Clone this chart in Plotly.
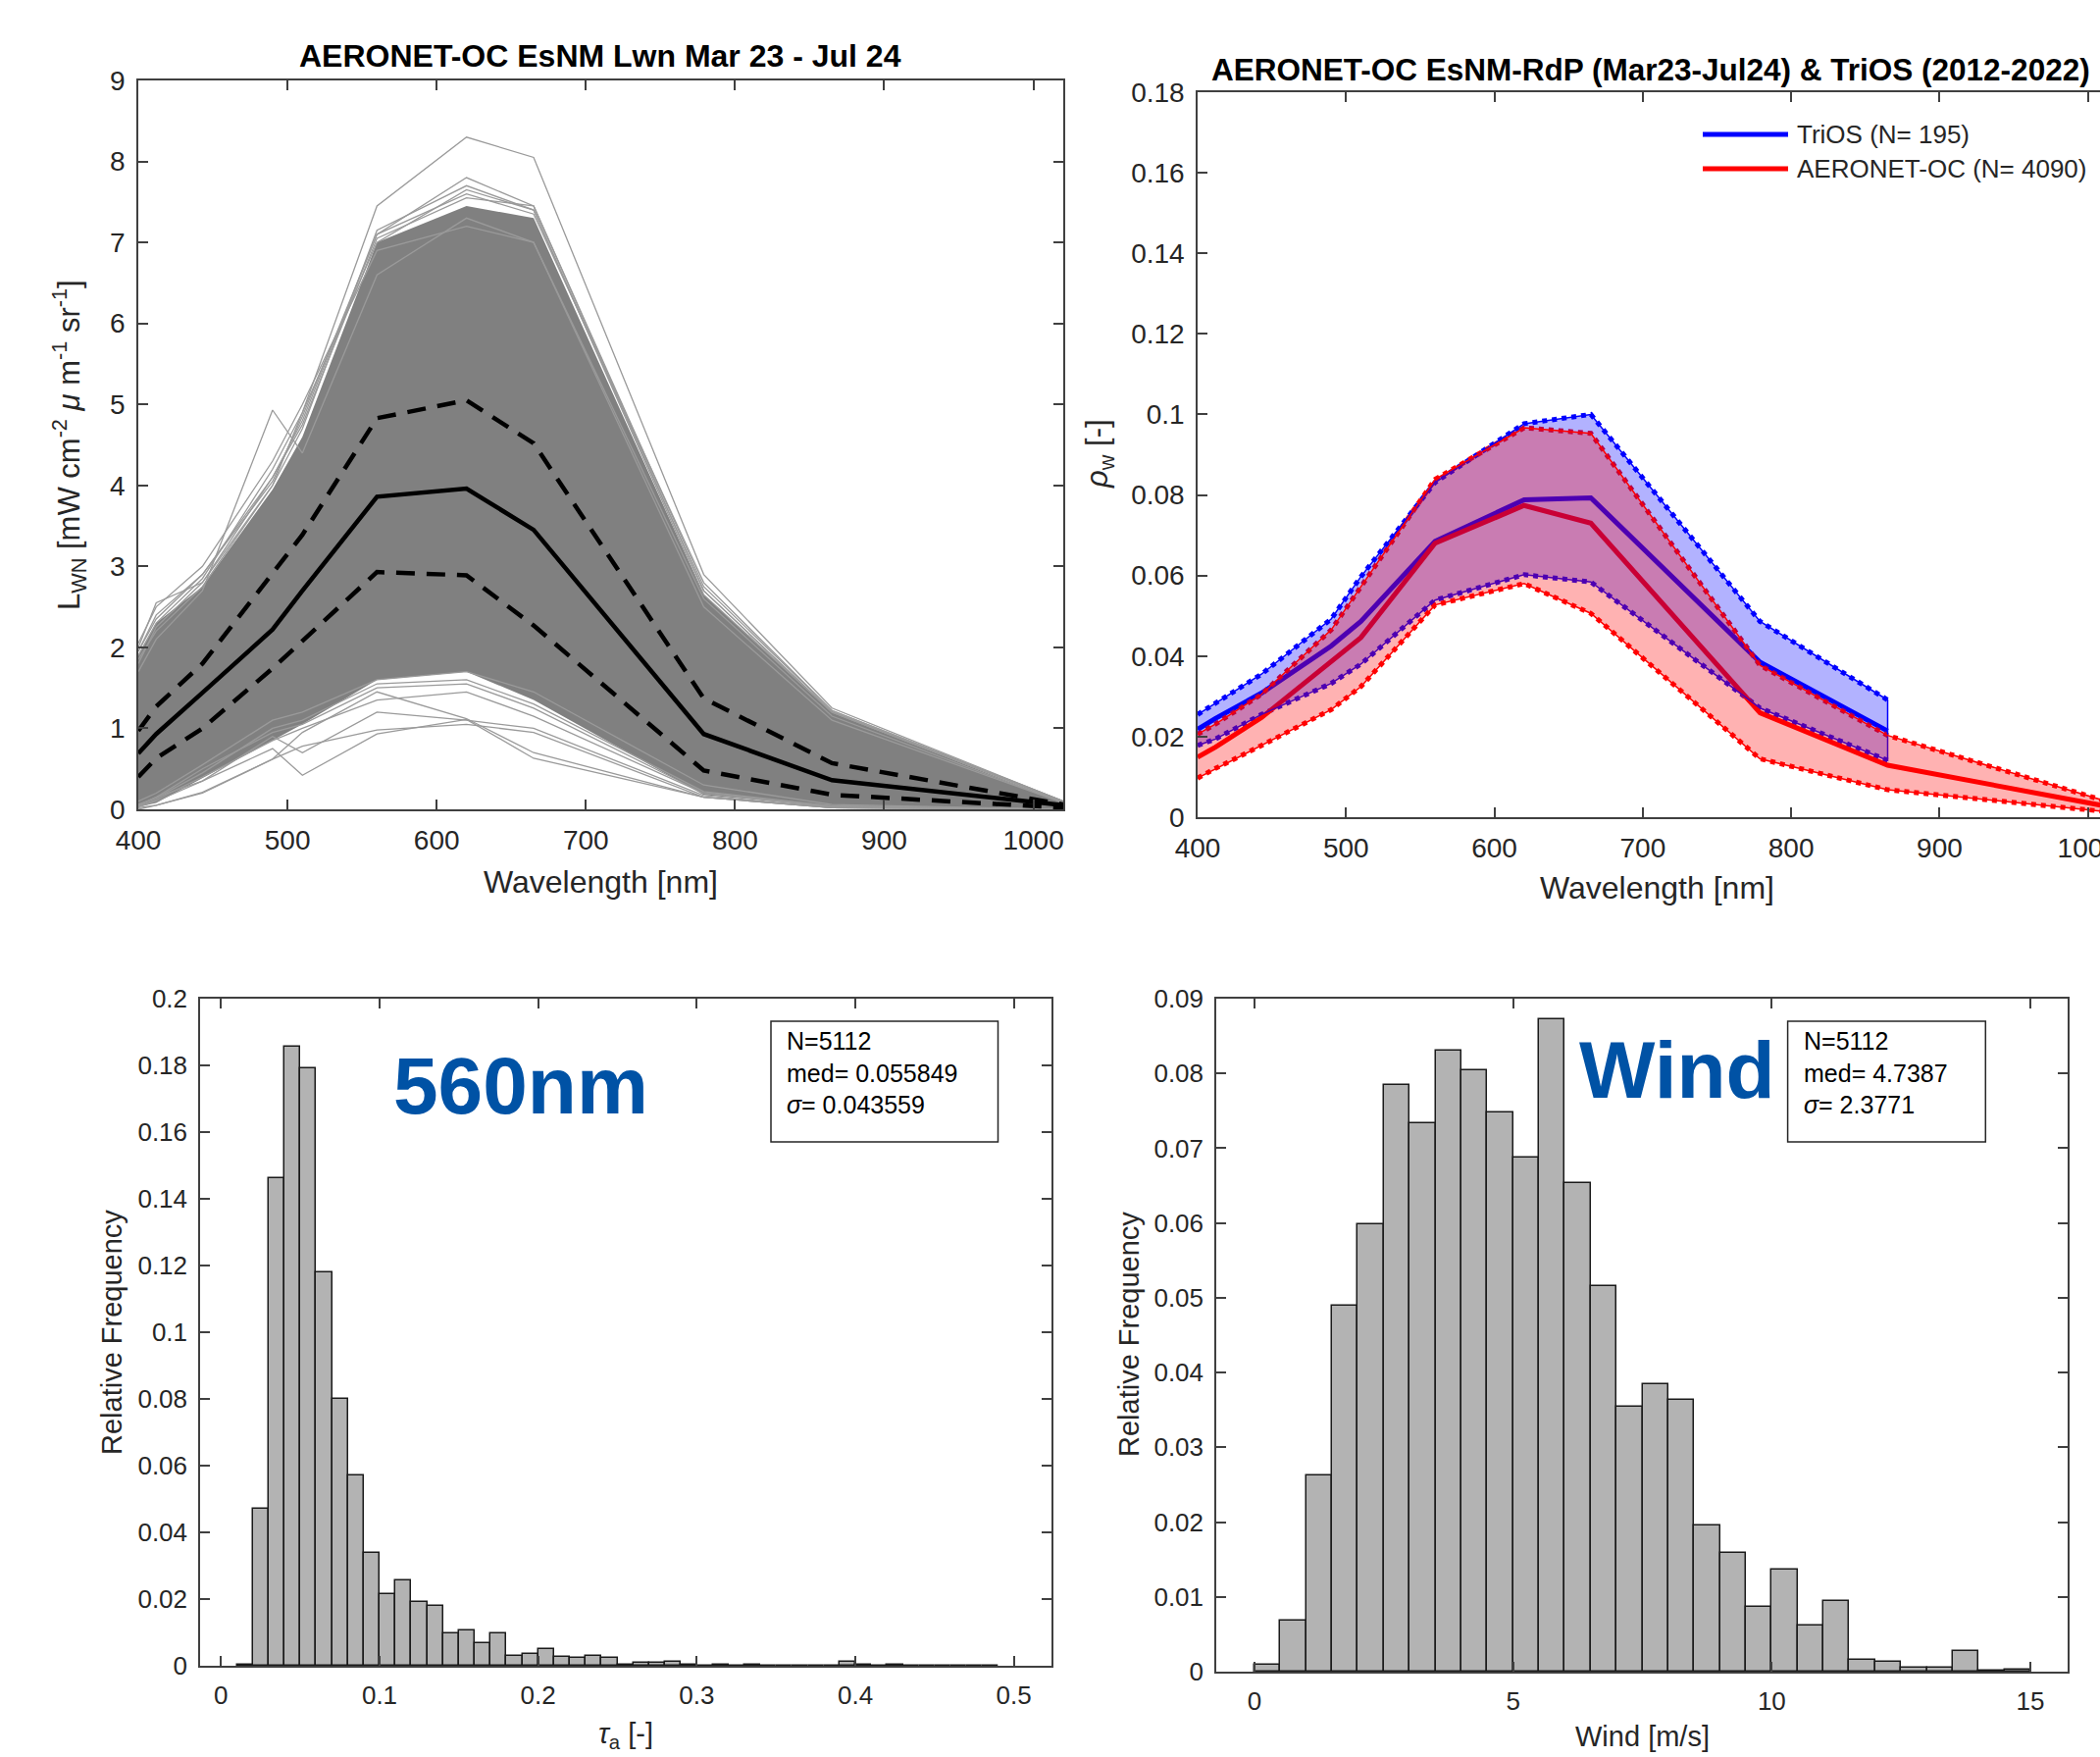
import plotly.graph_objects as go

W, H = 2141, 1791

# ---------------- data ----------------
wl = [400, 412, 443, 490, 510, 560, 620, 665, 779, 865, 1020]
# top-left: Lwn spectra summary
lwn_med = [0.69, 0.93, 1.44, 2.22, 2.70, 3.86, 3.96, 3.45, 0.93, 0.36, 0.05]
lwn_q75 = [0.97, 1.27, 1.80, 2.93, 3.39, 4.83, 5.05, 4.52, 1.37, 0.57, 0.06]
lwn_q25 = [0.40, 0.63, 1.00, 1.74, 2.08, 2.93, 2.89, 2.27, 0.48, 0.18, 0.02]
# dense core of individual spectra (upper / lower envelope of the grey mass)
lwn_core_hi = [1.90, 2.30, 2.75, 3.95, 4.60, 7.00, 7.45, 7.30, 2.65, 1.20, 0.08]
lwn_core_lo = [0.03, 0.08, 0.38, 0.85, 1.05, 1.60, 1.70, 1.35, 0.18, 0.03, 0.00]
# individual spectra visible at the edges of the grey mass
lwn_edge = [
    [2.00, 2.55, 2.80, 4.00, 4.90, 7.45, 8.30, 8.05, 2.90, 1.25, 0.10],
    [1.95, 2.40, 2.90, 4.10, 4.80, 7.10, 7.80, 7.45, 2.75, 1.22, 0.10],
    [1.70, 2.10, 2.70, 4.93, 4.40, 6.60, 7.30, 7.00, 2.50, 1.10, 0.08],
    [1.90, 2.30, 2.85, 4.20, 4.90, 7.00, 7.65, 7.40, 2.65, 1.20, 0.09],
    [1.85, 2.20, 2.75, 4.00, 4.70, 7.15, 7.70, 7.40, 2.70, 1.20, 0.10],
    [2.05, 2.50, 3.00, 4.30, 5.00, 6.90, 7.20, 7.00, 2.60, 1.15, 0.08],
    [1.80, 2.25, 2.80, 4.10, 4.75, 7.05, 7.55, 7.45, 2.70, 1.20, 0.09],
    [1.95, 2.35, 2.90, 4.05, 4.85, 7.10, 7.60, 7.35, 2.80, 1.22, 0.10],
    [0.00, 0.05, 0.20, 0.62, 0.78, 0.98, 1.05, 0.95, 0.15, 0.02, 0.00],
    [0.05, 0.15, 0.35, 0.75, 0.42, 0.93, 1.11, 0.63, 0.15, 0.02, 0.00],
    [0.02, 0.05, 0.21, 0.62, 0.95, 1.45, 1.12, 0.70, 0.15, 0.02, 0.00],
    [0.05, 0.15, 0.50, 0.95, 1.05, 1.50, 1.55, 1.25, 0.20, 0.04, 0.00],
    [0.03, 0.10, 0.35, 0.90, 0.70, 1.20, 1.10, 1.00, 0.17, 0.02, 0.00],
    [0.10, 0.20, 0.55, 1.10, 1.20, 1.60, 1.70, 1.45, 0.30, 0.06, 0.00],
    [0.04, 0.12, 0.40, 0.85, 1.00, 1.35, 1.45, 1.15, 0.20, 0.03, 0.00],
    [0.06, 0.14, 0.45, 1.00, 1.10, 1.55, 1.60, 1.30, 0.22, 0.04, 0.00],
]

# top-right: rho_w
trios_wl = [400, 412, 443, 490, 510, 560, 620, 665, 779, 865]
trios_hi = [0.0255, 0.0283, 0.0355, 0.0492, 0.0597, 0.0831, 0.0977, 0.1000, 0.0486, 0.0291]
trios_med = [0.0218, 0.0245, 0.0308, 0.0425, 0.0486, 0.0685, 0.0788, 0.0793, 0.0385, 0.0214]
trios_lo = [0.0178, 0.0194, 0.0255, 0.0332, 0.0380, 0.0539, 0.0602, 0.0584, 0.0271, 0.0141]
aer_hi = [0.0206, 0.0231, 0.0305, 0.0465, 0.0572, 0.0839, 0.0967, 0.0953, 0.0377, 0.0203, 0.0031]
aer_med = [0.0149, 0.0174, 0.0247, 0.0385, 0.0446, 0.0680, 0.0774, 0.0730, 0.0259, 0.0129, 0.0022]
aer_lo = [0.0097, 0.0121, 0.0178, 0.0267, 0.0324, 0.0527, 0.0580, 0.0506, 0.0145, 0.0068, 0.0011]

# bottom-left: tau_a(560) histogram (bin width 0.01)
tau_bin_left = [0.01, 0.02, 0.03, 0.04, 0.05, 0.06, 0.07, 0.08, 0.09, 0.10,
                0.11, 0.12, 0.13, 0.14, 0.15, 0.16, 0.17, 0.18, 0.19, 0.20,
                0.21, 0.22, 0.23, 0.24, 0.25, 0.26, 0.27, 0.28, 0.29, 0.30,
                0.31, 0.32, 0.33, 0.34, 0.35, 0.36, 0.37, 0.38, 0.39, 0.40,
                0.41, 0.42, 0.43, 0.44, 0.45, 0.46, 0.47, 0.48]
tau_freq = [0.0003, 0.0471, 0.1462, 0.1856, 0.1792, 0.1180, 0.0800, 0.0572, 0.0339, 0.0216,
            0.0256, 0.0192, 0.0179, 0.0097, 0.0106, 0.0069, 0.0096, 0.0030, 0.0034, 0.0050,
            0.0026, 0.0024, 0.0028, 0.0025, 0.0004, 0.0008, 0.0009, 0.0013, 0.0004, 0.0000,
            0.0002, 0.0000, 0.0002, 0.0001, 0.0001, 0.0001, 0.0001, 0.0001, 0.0011, 0.0004,
            0.0001, 0.0004, 0.0001, 0.0001, 0.0001, 0.0001, 0.0001, 0.0001]
tau_bw = 0.01

# bottom-right: wind histogram (bin width 0.5)
wind_bin_left = [0.0, 0.5, 1.0, 1.5, 2.0, 2.5, 3.0, 3.5, 4.0, 4.5,
                 5.0, 5.5, 6.0, 6.5, 7.0, 7.5, 8.0, 8.5, 9.0, 9.5,
                 10.0, 10.5, 11.0, 11.5, 12.0, 12.5, 13.0, 13.5, 14.0, 14.5]
wind_freq = [0.00095, 0.0068, 0.0262, 0.0490, 0.0598, 0.0784, 0.0733, 0.0830, 0.0804, 0.0748,
             0.0688, 0.0872, 0.0654, 0.0515, 0.0354, 0.0385, 0.0363, 0.0195, 0.0159, 0.0087,
             0.0136, 0.0062, 0.0095, 0.0016, 0.0013, 0.0005, 0.0005, 0.0027, 0.0001, 0.0003]
wind_bw = 0.5

lwn_ticks = [0, 1, 2, 3, 4, 5, 6, 7, 8, 9]
wl_ticks = [400, 500, 600, 700, 800, 900, 1000]
rho_ticks = [0, 0.02, 0.04, 0.06, 0.08, 0.1, 0.12, 0.14, 0.16, 0.18]
rho_ticktext = ["0", "0.02", "0.04", "0.06", "0.08", "0.1", "0.12", "0.14", "0.16", "0.18"]
tau_xticks = [0, 0.1, 0.2, 0.3, 0.4, 0.5]
tau_xticktext = ["0", "0.1", "0.2", "0.3", "0.4", "0.5"]
tau_yticks = [0, 0.02, 0.04, 0.06, 0.08, 0.1, 0.12, 0.14, 0.16, 0.18, 0.2]
tau_yticktext = ["0", "0.02", "0.04", "0.06", "0.08", "0.1", "0.12", "0.14", "0.16", "0.18", "0.2"]
wind_xticks = [0, 5, 10, 15]
wind_yticks = [0, 0.01, 0.02, 0.03, 0.04, 0.05, 0.06, 0.07, 0.08, 0.09]
wind_yticktext = ["0", "0.01", "0.02", "0.03", "0.04", "0.05", "0.06", "0.07", "0.08", "0.09"]

# ---------------- helpers ----------------
def px(x):
    return x / W


def py(y):
    return 1 - y / H


FONT = "Liberation Sans, Arial, Helvetica, sans-serif"
AXC = "#404040"
TXC = "#262626"

fig = go.Figure()

# ---- top-left ----
fig.add_trace(go.Scatter(x=wl + wl[::-1], y=lwn_core_hi + lwn_core_lo[::-1], fill="toself",
                         fillcolor="#808080", line=dict(width=0), mode="lines",
                         xaxis="x", yaxis="y", showlegend=False, hoverinfo="skip"))
for spec in lwn_edge:
    fig.add_trace(go.Scatter(x=wl, y=spec, mode="lines", line=dict(color="#9a9a9a", width=1.3),
                             xaxis="x", yaxis="y", showlegend=False))
for q in (lwn_q75, lwn_q25):
    fig.add_trace(go.Scatter(x=wl, y=q, mode="lines", line=dict(color="black", width=4.5, dash="19px,12px"),
                             xaxis="x", yaxis="y", showlegend=False))
fig.add_trace(go.Scatter(x=wl, y=lwn_med, mode="lines", line=dict(color="black", width=4.5),
                         xaxis="x", yaxis="y", showlegend=False))

# ---- top-right ----
DOT = "5px,5px"
for yv, w, d in ((trios_hi, 5, DOT), (trios_lo, 5, DOT), (trios_med, 5, "solid")):
    fig.add_trace(go.Scatter(x=trios_wl, y=yv, mode="lines", line=dict(color="#0000ff", width=w, dash=d),
                             xaxis="x2", yaxis="y2", showlegend=False))
for yv, w, d in ((aer_hi, 5, DOT), (aer_lo, 5, DOT), (aer_med, 5, "solid")):
    fig.add_trace(go.Scatter(x=wl, y=yv, mode="lines", line=dict(color="#ff0000", width=w, dash=d),
                             xaxis="x2", yaxis="y2", showlegend=False))
fig.add_trace(go.Scatter(x=trios_wl + trios_wl[::-1], y=trios_hi + trios_lo[::-1], fill="toself",
                         fillcolor="rgba(0,0,255,0.3)", line=dict(color="#0000ff", width=1.5), mode="lines",
                         xaxis="x2", yaxis="y2", showlegend=False, hoverinfo="skip"))
fig.add_trace(go.Scatter(x=wl + wl[::-1], y=aer_hi + aer_lo[::-1], fill="toself",
                         fillcolor="rgba(255,0,0,0.3)", line=dict(color="#ff0000", width=1.5), mode="lines",
                         xaxis="x2", yaxis="y2", showlegend=False, hoverinfo="skip"))

# ---- bottom-left ----
fig.add_trace(go.Bar(x=[b + tau_bw / 2 for b in tau_bin_left], y=tau_freq, width=tau_bw,
                     marker=dict(color="#b3b3b3", line=dict(color="#1a1a1a", width=1.5)),
                     xaxis="x3", yaxis="y3", showlegend=False))
# ---- bottom-right ----
fig.add_trace(go.Bar(x=[b + wind_bw / 2 for b in wind_bin_left], y=wind_freq, width=wind_bw,
                     marker=dict(color="#b3b3b3", line=dict(color="#1a1a1a", width=1.5)),
                     xaxis="x4", yaxis="y4", showlegend=False))


def axis(domain, rng, tickvals, ticktext=None, mirror="ticks", size=28, anchor=None, standoff=6):
    d = dict(domain=domain, range=rng, tickvals=tickvals, ticks="inside", ticklen=10, tickwidth=1.5,
             tickcolor=AXC, showline=True, linecolor=AXC, linewidth=1.5, mirror=mirror,
             showgrid=False, zeroline=False, fixedrange=True, ticklabelstandoff=standoff,
             automargin=False, ticklabeloverflow="allow",
             tickfont=dict(family=FONT, size=size, color=TXC))
    if ticktext is not None:
        d["ticktext"] = ticktext
    if anchor:
        d["anchor"] = anchor
    return d


fig.update_layout(
    width=W, height=H, margin=dict(l=0, r=0, t=0, b=0, autoexpand=False),
    paper_bgcolor="white", plot_bgcolor="white", bargap=0,
    xaxis=axis([px(141), px(1084)], [400, 1020], wl_ticks, [str(v) for v in wl_ticks], anchor="y"),
    yaxis=axis([py(825), py(82)], [0, 9], lwn_ticks, [str(v) for v in lwn_ticks], anchor="x"),
    xaxis2=axis([px(1221), 1.0], [400, 1008.1], wl_ticks, [str(v) for v in wl_ticks], anchor="y2"),
    yaxis2=axis([py(833), py(94)], [0, 0.18], rho_ticks, rho_ticktext, mirror=False, anchor="x2"),
    xaxis3=axis([px(204), px(1072)], [-0.0132, 0.5237], tau_xticks, tau_xticktext, size=26, anchor="y3"),
    yaxis3=axis([py(1698), py(1018)], [0, 0.2], tau_yticks, tau_yticktext, size=26, anchor="x3"),
    xaxis4=axis([px(1240), px(2108)], [-0.739, 15.72], wind_xticks, [str(v) for v in wind_xticks], size=26, anchor="y4"),
    yaxis4=axis([py(1704), py(1018)], [0, 0.09], wind_yticks, wind_yticktext, size=26, anchor="x4"),
)

ann = []


def text(x, y, s, size, angle=0, bold=False, color="black", xanchor="center", yanchor="middle", family=FONT, align="center"):
    if bold:
        s = "<b>" + s + "</b>"
    ann.append(dict(x=px(x), y=py(y), xref="paper", yref="paper", text=s, showarrow=False,
                    textangle=angle, xanchor=xanchor, yanchor=yanchor, align=align,
                    font=dict(family=family, size=size, color=color)))


# titles
text(612, 57, "AERONET-OC EsNM Lwn Mar 23 - Jul 24", 32, bold=True)
text(1683, 71, "AERONET-OC EsNM-RdP (Mar23-Jul24) &amp; TriOS (2012-2022)", 31.5, bold=True)
# axis titles
text(612, 899, "Wavelength [nm]", 32, color=TXC)
text(1689, 905, "Wavelength [nm]", 32, color=TXC)
text(70, 454, "L<sub>WN</sub> [mW cm<sup>-2</sup> <i>μ</i> m<sup>-1</sup> sr<sup>-1</sup>]", 31, angle=-90, color=TXC)
text(1121, 463, "<i>ρ</i><sub>w</sub> [-]", 31, angle=-90, color=TXC)
text(638, 1769, "<i>τ</i><sub>a</sub> [-]", 29, color=TXC)
text(1674, 1770, "Wind [m/s]", 29, color=TXC)
text(114, 1358, "Relative Frequency", 29, angle=-90, color=TXC)
text(1151, 1360, "Relative Frequency", 29, angle=-90, color=TXC)

# big labels
BIG = "Liberation Sans Narrow, Arial Narrow, Liberation Sans, Arial, sans-serif"
text(531, 1106, "560nm", 82, bold=True, color="#0052a5", family=BIG)
text(1710, 1090, "Wind", 82, bold=True, color="#0052a5", family=BIG)

# stats boxes
shapes = []
for (x0, x1) in ((786, 1017.5), (1822.6, 2024.3)):
    shapes.append(dict(type="rect", xref="paper", yref="paper", x0=px(x0), x1=px(x1),
                       y0=py(1164), y1=py(1041), line=dict(color="#262626", width=1.5),
                       fillcolor="white"))
text(800, 1045, "N=5112<br>med= 0.055849<br><i>σ</i>= 0.043559", 25, xanchor="left", yanchor="top", align="left")
text(1837, 1045, "N=5112<br>med= 4.7387<br><i>σ</i>= 2.3771", 25, xanchor="left", yanchor="top", align="left")

# legend (top-right panel)
for yy, col in ((137, "#0000ff"), (172, "#ff0000")):
    shapes.append(dict(type="line", xref="paper", yref="paper", x0=px(1736), x1=px(1823),
                       y0=py(yy), y1=py(yy), line=dict(color=col, width=5)))
text(1830, 137, "TriOS (N= 195)", 26, xanchor="left", color=TXC)
text(1830, 172, "AERONET-OC (N= 4090)", 26, xanchor="left", color=TXC)

fig.update_layout(annotations=ann, shapes=shapes)

fig.write_html("out.html")
